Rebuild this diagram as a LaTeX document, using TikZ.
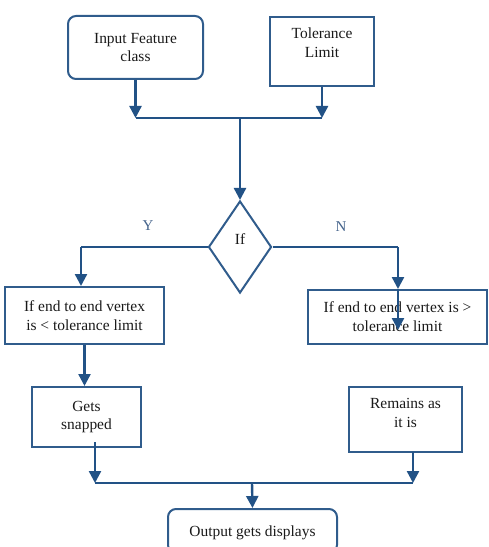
\documentclass[tikz,border=0pt]{standalone}
\usepackage{fontspec}
\setmainfont{Liberation Serif}
\usetikzlibrary{arrows.meta,shapes.geometric}
\definecolor{lineblue}{RGB}{34,82,134}
\definecolor{boxblue}{RGB}{48,92,140}
\definecolor{lblblue}{RGB}{70,100,140}
\tikzset{
  box/.style={draw=boxblue, line width=2bp, align=center, inner sep=0pt,
    font=\fontsize{15.5}{19}\selectfont, text=black!90},
  rbox/.style={box, rounded corners=8bp},
  arr/.style={draw=lineblue, line width=2.4bp, -{Triangle[width=12bp,length=12bp]}},
  joinline/.style={draw=lineblue, line width=1.3bp},
  lbl/.style={text=lblblue, font=\fontsize{15}{16}\selectfont, inner sep=0pt}
}
\begin{document}
\begin{tikzpicture}[x=1bp,y=-1bp]
\useasboundingbox (0,0) rectangle (489,547);
% boxes
\node[rbox, minimum width=135bp, minimum height=63bp] (inp) at (135.5,47.5) {Input Feature\\class};
\node[box, minimum width=104bp, minimum height=69bp, text depth=18bp] (tol) at (322,51.5) {Tolerance\\Limit};
\node[draw=boxblue, line width=2bp, diamond, minimum width=63bp, minimum height=92bp, inner sep=0pt] (dia) at (240,247) {};
\node[font=\fontsize{15.5}{16}\selectfont, text=black!90, inner sep=0pt] (iftxt) at (240,239) {If};
\node[lbl] (ylab) at (148,226) {Y};
\node[lbl] (nlab) at (341,227) {N};
\node[box, minimum width=159bp, minimum height=57bp] (lb) at (84.5,315.5) {If end to end vertex\\is < tolerance limit};
\node[box, minimum width=179bp, minimum height=54bp] (rb) at (397.5,317) {If end to end vertex is >\\tolerance limit};
\node[box, minimum width=109bp, minimum height=60bp] (gs) at (86.5,417) {Gets\\snapped};
\node[box, minimum width=113bp, minimum height=65bp, text depth=14bp] (ri) at (405.5,419.5) {Remains as\\it is};
\node[rbox, minimum width=169bp, minimum height=44bp, text depth=0pt] (out) at (252.5,531) {Output gets displays};
% junction points
\coordinate (j1) at (240,118);
\coordinate (yl) at (81,247);
\coordinate (nr) at (398,247);
\coordinate (nend) at (398,330);
\coordinate (gsout) at (95,442);
\coordinate (riout) at (413,452);
\coordinate (j2) at (252,483);
% connectors
\draw[arr] (inp.south) -- (inp.south |- j1);
\draw[arr] (tol.south) -- (tol.south |- j1);
\draw[joinline] (inp.south |- j1) -- (tol.south |- j1);
\draw[arr] (j1) -- (dia.north);
\draw[joinline] (dia.west) -- (yl);
\draw[arr] (yl) -- (yl |- lb.north);
\draw[joinline] (dia.east) -- (nr);
\draw[arr] (nr) -- (nr |- rb.north);
\draw[arr] (nr |- rb.north) -- (nend);
\draw[arr] (lb.south) -- (lb.south |- gs.north);
\draw[arr] (gsout) -- (gsout |- j2);
\draw[arr] (riout) -- (riout |- j2);
\draw[joinline] (gsout |- j2) -- (riout |- j2);
\draw[arr] (j2) -- (out.north);
\end{tikzpicture}
\end{document}
